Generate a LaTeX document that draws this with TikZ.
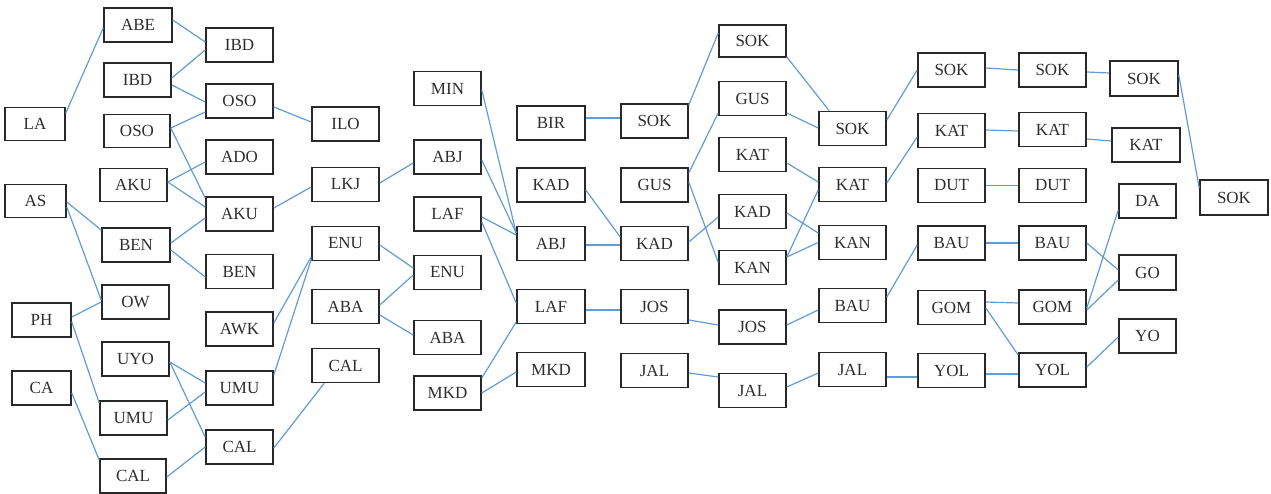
\documentclass[tikz,border=0pt]{standalone}
\usepackage{fontspec}
\setmainfont{Liberation Serif}
\usetikzlibrary{calc}
\definecolor{linkc}{RGB}{98,156,210}
\definecolor{boxc}{RGB}{40,40,40}
\definecolor{txtc}{RGB}{45,45,45}
\tikzset{
  bx/.style={draw=boxc, line width=1.6pt, minimum width=67pt, minimum height=34pt, inner sep=0pt, font=\fontsize{17}{17}\selectfont, text=txtc},
  link/.style={draw=linkc, line width=1.2pt}
}
\newcommand\edg[4]{\draw[link] ($(#1.east)+(0,#2)$) -- ($(#3.west)+(0,#4)$);}
\begin{document}
\begin{tikzpicture}[x=1pt,y=-1pt]
\useasboundingbox (0,0) rectangle (1271,493);
% column 1
\node[bx,minimum width=60pt,minimum height=33pt] (LA) at (35,124) {LA};
\node[bx,minimum width=61pt,minimum height=33pt] (AS) at (35.5,201) {AS};
\node[bx,minimum width=59pt] (PH) at (41.5,320) {PH};
\node[bx,minimum width=59pt] (CA) at (41.5,388) {CA};
% column 2
\node[bx,minimum width=68pt] (ABE) at (138,25) {ABE};
\node[bx] (IBDb) at (137.5,80) {IBD};
\node[bx,minimum width=66pt,minimum height=33pt] (OSOb) at (137,131) {OSO};
\node[bx,minimum height=33pt] (AKUb) at (133.5,185) {AKU};
\node[bx,minimum width=68pt] (BENb) at (136,245) {BEN};
\node[bx] (OW) at (135.5,302) {OW};
\node[bx] (UYO) at (135.5,359) {UYO};
\node[bx] (UMUb) at (133.5,418) {UMU};
\node[bx,minimum width=66pt] (CALb) at (133,476) {CAL};
% column 3
\node[bx] (IBDc) at (239.5,45) {IBD};
\node[bx] (OSOc) at (239.5,101) {OSO};
\node[bx] (ADO) at (239.5,157) {ADO};
\node[bx] (AKUc) at (239.5,214) {AKU};
\node[bx] (BENc) at (239.5,271.5) {BEN};
\node[bx] (AWK) at (239.5,329) {AWK};
\node[bx] (UMUc) at (239.5,388) {UMU};
\node[bx] (CALc) at (239.5,447) {CAL};
% column 4
\node[bx] (ILO) at (345.5,124) {ILO};
\node[bx] (LKJ) at (345.5,184.5) {LKJ};
\node[bx] (ENUd) at (345.5,243.5) {ENU};
\node[bx] (ABAd) at (345.5,306.5) {ABA};
\node[bx] (CALd) at (345.5,365.5) {CAL};
% column 5
\node[bx] (MIN) at (447.5,88.5) {MIN};
\node[bx] (ABJe) at (447.5,157) {ABJ};
\node[bx] (LAFe) at (447.5,214) {LAF};
\node[bx] (ENUe) at (447.5,272.5) {ENU};
\node[bx] (ABAe) at (447.5,337.5) {ABA};
\node[bx] (MKDe) at (447.5,393) {MKD};
% column 6
\node[bx,minimum width=68pt] (BIR) at (551,123) {BIR};
\node[bx,minimum width=68pt] (KADf) at (551,185) {KAD};
\node[bx,minimum width=68pt] (ABJf) at (551,243.5) {ABJ};
\node[bx,minimum width=68pt] (LAFf) at (551,306.5) {LAF};
\node[bx,minimum width=68pt] (MKDf) at (551,369.5) {MKD};
% column 7
\node[bx] (SOKg) at (654.5,121) {SOK};
\node[bx] (GUSg) at (654.5,185) {GUS};
\node[bx] (KADg) at (654.5,243.5) {KAD};
\node[bx] (JOSg) at (654.5,306.5) {JOS};
\node[bx] (JALg) at (654.5,370.5) {JAL};
% column 8
\node[bx,minimum height=32pt] (SOKh) at (752.5,41) {SOK};
\node[bx] (GUSh) at (752.5,98.5) {GUS};
\node[bx] (KATh) at (752.5,154.5) {KAT};
\node[bx] (KADh) at (752.5,211.5) {KAD};
\node[bx] (KANh) at (752.5,267.5) {KAN};
\node[bx] (JOSh) at (752.5,327) {JOS};
\node[bx] (JALh) at (752.5,390.5) {JAL};
% column 9
\node[bx] (SOKi) at (852.5,128.5) {SOK};
\node[bx] (KATi) at (852.5,184.5) {KAT};
\node[bx] (KANi) at (852.5,242.5) {KAN};
\node[bx] (BAUi) at (852.5,305.5) {BAU};
\node[bx] (JALi) at (852.5,369.5) {JAL};
% column 10
\node[bx] (SOKj) at (951.5,70) {SOK};
\node[bx] (KATj) at (951.5,130.5) {KAT};
\node[bx] (DUTj) at (951.5,185.5) {DUT};
\node[bx] (BAUj) at (951.5,243) {BAU};
\node[bx] (GOMj) at (951.5,307.5) {GOM};
\node[bx] (YOLj) at (951.5,370.5) {YOL};
% column 11
\node[bx] (SOKk) at (1052.5,70) {SOK};
\node[bx] (KATk) at (1052.5,129.5) {KAT};
\node[bx] (DUTk) at (1052.5,185.5) {DUT};
\node[bx] (BAUk) at (1052.5,243) {BAU};
\node[bx] (GOMk) at (1052.5,307) {GOM};
\node[bx] (YOLk) at (1052.5,370) {YOL};
% column 12
\node[bx,minimum width=68pt,minimum height=35pt] (SOKl) at (1144,78.5) {SOK};
\node[bx,minimum width=68pt] (KATl) at (1146,145) {KAT};
\node[bx,minimum width=57pt] (DA) at (1147.5,201) {DA};
\node[bx,minimum width=57pt,minimum height=35pt] (GO) at (1147.5,272.5) {GO};
\node[bx,minimum width=57pt] (YO) at (1147.5,336) {YO};
% column 13
\node[bx,minimum width=68pt,minimum height=35pt] (SOKm) at (1234,197.5) {SOK};
% connectors
\edg{LA}{-11}{ABE}{3}
\edg{ABE}{-5}{IBDc}{-3}
\edg{IBDb}{-2}{IBDc}{5}
\edg{IBDb}{5}{OSOc}{1}
\edg{OSOb}{-3}{OSOc}{11}
\edg{OSOb}{-3}{AKUc}{-16}
\edg{AKUb}{-3}{ADO}{5}
\edg{AKUb}{-3}{AKUc}{-7}
\edg{AS}{1}{BENb}{-15}
\edg{AS}{6}{OW}{-2}
\edg{BENb}{-2}{AKUc}{4}
\edg{BENb}{5}{BENc}{5.5}
\edg{AKUc}{-6}{LKJ}{2.5}
\edg{OSOc}{6}{ILO}{-2}
\edg{PH}{-3}{OW}{0}
\edg{PH}{2}{UMUb}{-15}
\edg{CA}{5}{CALb}{-16}
\edg{UYO}{3}{UMUc}{-5}
\edg{UYO}{3}{CALc}{-10}
\edg{UMUb}{2}{UMUc}{4}
\edg{CALb}{1}{CALc}{0}
\edg{AWK}{-6}{ENUd}{13.5}
\edg{UMUc}{-13}{ENUd}{16}
\draw[link] ($(CALc.east)+(0,1)$) -- ($(CALd.south west)+(13,0)$);
\edg{LKJ}{-1.5}{ABJe}{6}
\edg{ENUd}{1.5}{ENUe}{-4.5}
\edg{ABAd}{-1.5}{ENUe}{2.5}
\edg{ABAd}{8.5}{ABAe}{-2.5}
\edg{MIN}{1.5}{ABJf}{-10.5}
\edg{ABJe}{3}{ABJf}{-10.5}
\edg{LAFe}{3}{ABJf}{-8.5}
\edg{LAFe}{8}{LAFf}{-3.5}
\edg{MKDe}{-15}{LAFf}{15.5}
\edg{MKDe}{0}{MKDf}{2.5}
\edg{BIR}{-5}{SOKg}{-3}
\edg{KADf}{5}{KADg}{-6.5}
\edg{ABJf}{1.5}{KADg}{1.5}
\edg{LAFf}{3.5}{JOSg}{3.5}
\edg{SOKg}{-16}{SOKh}{-8}
\edg{GUSg}{-12}{GUSh}{14.5}
\edg{GUSg}{-3}{KANh}{-5}
\edg{KADg}{-1.5}{KADh}{5.5}
\draw[link] ($(SOKh.east)+(0,16)$) -- ($(SOKi.north west)+(11,0)$);
\edg{GUSh}{14.5}{SOKi}{-0.5}
\edg{KATh}{8.5}{KATi}{-2.5}
\edg{KADh}{1.5}{KANi}{-9.5}
\edg{KANh}{-10.5}{KATi}{5.5}
\edg{KANh}{-10.5}{KANi}{0}
\edg{SOKi}{-8.5}{SOKj}{0}
\edg{KATi}{-1.5}{KATj}{6.5}
\edg{JOSg}{13.5}{JOSh}{-2}
\edg{JALg}{2.5}{JALh}{-13.5}
\edg{JOSh}{-2}{BAUi}{4.5}
\edg{JALh}{-3.5}{JALi}{3.5}
\edg{JALi}{7.5}{YOLj}{6.5}
\edg{BAUi}{-8.5}{BAUj}{2}
\edg{SOKj}{-2}{SOKk}{0}
\edg{SOKk}{2}{SOKl}{-5.5}
\edg{SOKl}{-3.5}{SOKm}{-9.5}
\edg{KATj}{-0.5}{KATk}{1.5}
\edg{KATk}{9.5}{KATl}{-4}
\edg{DUTj}{0}{DUTk}{0}
\edg{BAUj}{0}{BAUk}{0}
\edg{BAUk}{0}{GO}{-2.5}
\edg{GOMk}{1}{DA}{9}
\edg{GOMk}{3}{GO}{7.5}
\edg{GOMj}{-5.5}{GOMk}{-4}
\edg{GOMj}{0.5}{YOLk}{-15}
\edg{YOLj}{3.5}{YOLk}{4}
\edg{YOLk}{-3}{YO}{1}
\end{tikzpicture}
\end{document}
